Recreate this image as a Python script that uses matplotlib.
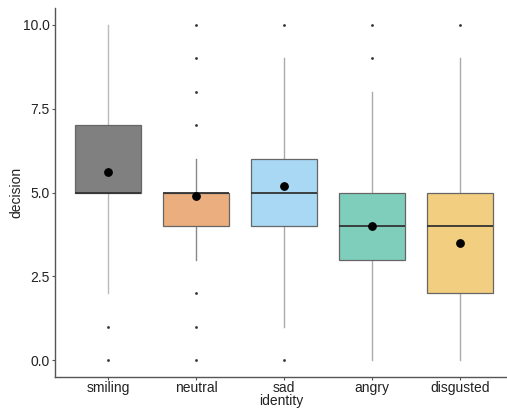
import matplotlib as mpl
mpl.use("Agg")
import matplotlib.pyplot as plt

plt.rcParams["font.family"] = ["Liberation Sans", "DejaVu Sans"]

identities = ["smiling", "neutral", "sad", "angry", "disgusted"]
q1 = [5, 4, 4, 3, 2]
medians = [5, 5, 5, 4, 4]
q3 = [7, 5, 6, 5, 5]
whisk_lo = [2, 3, 1, 0, 0]
whisk_hi = [10, 6, 9, 8, 9]
outliers = [[0, 1], [0, 1, 2, 7, 8, 9, 10], [0, 10], [9, 10], [10]]
means = [5.6, 4.9, 5.2, 4.0, 3.5]
colors = ["#808080", "#ebae7e", "#a9d8f5", "#7fcdbb", "#f2ce80"]
whisker_colors = ["#bbbbbb", "#888888", "#aaaaaa", "#aaaaaa", "#aaaaaa"]

fig = plt.figure(figsize=(5.07, 4.08), dpi=100)
ax = fig.add_axes([55 / 507, 31 / 408, 452 / 507, 369 / 408])

stats = []
for i, name in enumerate(identities):
    stats.append(dict(label=name, q1=q1[i], med=medians[i], q3=q3[i],
                      whislo=whisk_lo[i], whishi=whisk_hi[i],
                      fliers=outliers[i], mean=means[i]))

pos = list(range(1, len(identities) + 1))
bp = ax.bxp(stats, positions=pos, widths=0.75, patch_artist=True,
            showcaps=False, showmeans=False,
            medianprops=dict(color="#333333", linewidth=1.3),
            boxprops=dict(edgecolor="#666666", linewidth=0.9),
            flierprops=dict(marker="o", markersize=2, markerfacecolor="#333333",
                            markeredgecolor="none"))
for i, patch in enumerate(bp["boxes"]):
    patch.set_facecolor(colors[i])
for i in range(len(identities)):
    # whiskers sit behind the boxes
    for w in bp["whiskers"][2 * i:2 * i + 2]:
        w.set_color(whisker_colors[i])
        w.set_linewidth(1.0)
        w.set_zorder(1)

ax.scatter(pos, means, s=28, color="black", zorder=5)

ax.set_xlim(0.398, 5.534)
ax.set_ylim(-0.5, 10.5)
ax.set_yticks([0, 2.5, 5, 7.5, 10])
ax.set_yticklabels(["0.0", "2.5", "5.0", "7.5", "10.0"])
ax.set_xticks(pos)
ax.set_xticklabels(identities)

for side in ["top", "right"]:
    ax.spines[side].set_visible(False)
for side in ["left", "bottom"]:
    ax.spines[side].set_color("#555555")
    ax.spines[side].set_linewidth(1.0)
ax.tick_params(axis="both", colors="#555555", length=2, width=0.8,
               labelsize=10, labelcolor="#222222", pad=1)
ax.tick_params(axis="y", pad=2)

ax.set_xlabel("identity", fontsize=10, color="#222222", labelpad=-1)
ax.set_ylabel("decision", fontsize=10, color="#222222")
ax.yaxis.set_label_coords(-0.069, 0.5)

fig.savefig("out.png", dpi=100)
